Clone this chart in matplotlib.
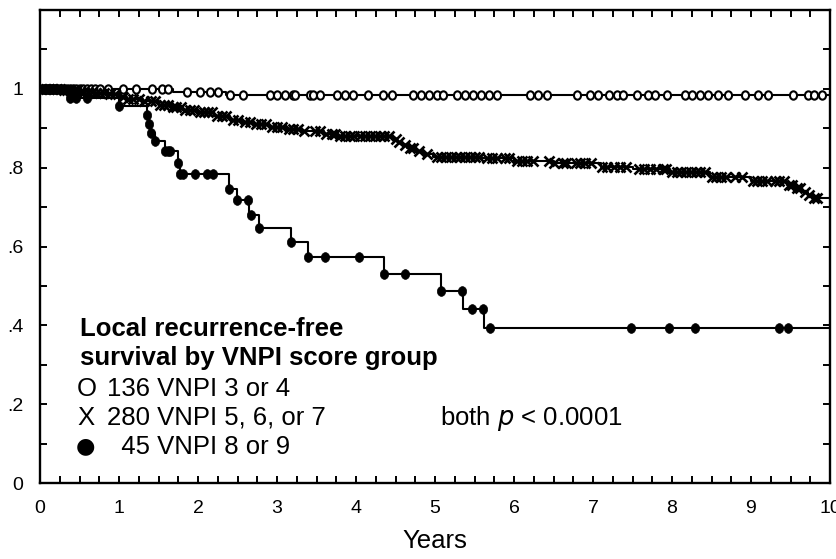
import numpy as np
import matplotlib
matplotlib.use("Agg")
import matplotlib.pyplot as plt
from matplotlib.markers import MarkerStyle
from matplotlib.transforms import Affine2D
from matplotlib.ticker import MultipleLocator

plt.rcParams['font.family'] = ['Liberation Sans', 'DejaVu Sans']

# ---- data: Kaplan-Meier step curves (time, survival) ----
g1_times = [0.0, 1.68, 2.35]
g1_surv = [1.0, 0.992, 0.984]

g2_times = [0.0, 0.3, 0.5, 0.7, 0.85, 1.0, 1.1, 1.3, 1.5, 1.65, 1.8, 2.0, 2.2, 2.4,
            2.55, 2.7, 2.9, 3.1, 3.3, 3.6, 3.75, 4.45, 4.52, 4.58, 4.65, 4.75, 4.85,
            4.97, 5.6, 6.0, 6.5, 7.1, 7.5, 7.97, 8.48, 9.0, 9.45, 9.55, 9.65, 9.72, 9.78]
g2_surv = [1.0, 0.996, 0.993, 0.99, 0.986, 0.979, 0.975, 0.968, 0.96, 0.953, 0.946,
           0.94, 0.932, 0.922, 0.915, 0.91, 0.903, 0.898, 0.893, 0.886, 0.881, 0.873,
           0.865, 0.857, 0.85, 0.842, 0.835, 0.828, 0.824, 0.818, 0.812, 0.802, 0.797,
           0.79, 0.777, 0.765, 0.757, 0.748, 0.738, 0.73, 0.724]

g3_times = [0.0, 0.35, 1.0, 1.35, 1.38, 1.41, 1.45, 1.58, 1.75, 1.77, 2.39, 2.49,
            2.65, 2.77, 3.18, 3.39, 4.36, 5.07, 5.35, 5.62]
g3_surv = [1.0, 0.978, 0.956, 0.933, 0.911, 0.889, 0.867, 0.842, 0.813, 0.783, 0.747,
           0.717, 0.679, 0.648, 0.612, 0.574, 0.531, 0.488, 0.442, 0.394]

# ---- marker times ----
g1_marks = [0.02, 0.06, 0.1, 0.14, 0.18, 0.22, 0.26, 0.3, 0.34, 0.38, 0.42, 0.46, 0.5,
            0.55, 0.6, 0.65, 0.7, 0.76, 0.86, 1.05, 1.22, 1.42, 1.54, 1.62, 1.86, 2.03,
            2.15, 2.25, 2.4, 2.57, 2.91, 3.0, 3.1, 3.2, 3.23, 3.42, 3.46, 3.55, 3.76,
            3.86, 3.96, 4.15, 4.34, 4.45, 4.72, 4.82, 4.92, 5.02, 5.1, 5.28, 5.38, 5.48,
            5.58, 5.68, 5.78, 6.2, 6.3, 6.42, 6.8, 6.96, 7.06, 7.2, 7.3, 7.38, 7.56, 7.7,
            7.78, 7.94, 8.16, 8.25, 8.35, 8.45, 8.58, 8.71, 8.92, 9.09, 9.22, 9.53, 9.72,
            9.8, 9.9]

g2_marks = [0.03, 0.08, 0.12, 0.17, 0.21, 0.25, 0.3, 0.34, 0.38, 0.43, 0.47, 0.52, 0.56,
            0.61, 0.66, 0.71, 0.76, 0.81, 0.88, 0.95, 1.05, 1.12, 1.18, 1.25, 1.32, 1.4,
            1.46, 1.52, 1.57, 1.62, 1.68, 1.72, 1.78, 1.84, 1.9, 1.95, 2.02, 2.08, 2.13,
            2.18, 2.24, 2.3, 2.36, 2.44, 2.5, 2.6, 2.66, 2.74, 2.8, 2.86, 2.94, 3.0, 3.06,
            3.15, 3.2, 3.26, 3.34, 3.48, 3.55, 3.62, 3.7, 3.74, 3.8, 3.86, 3.92, 3.98,
            4.05, 4.12, 4.18, 4.24, 4.3, 4.36, 4.42, 4.5, 4.55, 4.62, 4.68, 4.72, 4.8,
            4.9, 5.02, 5.08, 5.14, 5.2, 5.26, 5.32, 5.38, 5.44, 5.5, 5.56, 5.66, 5.72,
            5.78, 5.88, 5.94, 6.04, 6.1, 6.16, 6.24, 6.44, 6.5, 6.62, 6.66, 6.78, 6.84,
            6.9, 6.98, 7.12, 7.18, 7.26, 7.34, 7.42, 7.58, 7.64, 7.72, 7.8, 7.88, 7.92,
            8.0, 8.06, 8.12, 8.18, 8.24, 8.3, 8.36, 8.42, 8.5, 8.56, 8.62, 8.68, 8.8,
            8.88, 9.02, 9.08, 9.14, 9.2, 9.3, 9.36, 9.42, 9.48, 9.52, 9.58, 9.62, 9.68,
            9.74, 9.8, 9.84]

g3_marks = [0.05, 0.1, 0.15, 0.2, 0.25, 0.38, 0.45, 0.6, 1.0, 1.35, 1.38, 1.41, 1.45,
            1.58, 1.62, 1.64, 1.75, 1.77, 1.81, 1.96, 2.11, 2.19, 2.39, 2.49, 2.63, 2.67,
            2.77, 3.18, 3.39, 3.61, 4.04, 4.36, 4.62, 5.07, 5.34, 5.47, 5.61, 5.7, 7.48,
            7.96, 8.29, 9.35, 9.47]

x_end = 10.0
xtick_labels = ["0", "1", "2", "3", "4", "5", "6", "7", "8", "9", "10"]
ytick_vals = [0, 0.2, 0.4, 0.6, 0.8, 1.0]
ytick_labels = ["0", ".2", ".4", ".6", ".8", "1"]

legend_header = ["Local recurrence-free", "survival by VNPI score group"]
legend_rows = [("O", "136 VNPI 3 or 4"), ("X", "280 VNPI 5, 6, or 7"), ("\u25CF", "  45 VNPI 8 or 9")]


def step_value(times, surv, t):
    idx = np.searchsorted(np.asarray(times), np.asarray(t), side='right') - 1
    return np.asarray(surv)[idx]


fig = plt.figure(figsize=(8.36, 5.59), dpi=100)
ax = fig.add_axes([40 / 836, 76 / 559, 790 / 836, 473 / 559])

lw = 1.5
for times, surv in [(g1_times, g1_surv), (g2_times, g2_surv), (g3_times, g3_surv)]:
    t = list(times) + [x_end]
    s = list(surv) + [surv[-1]]
    ax.step(t, s, where='post', color='black', lw=lw, zorder=2)

circ = MarkerStyle('o', transform=Affine2D().scale(0.85, 1.0))
ax.plot(g1_marks, step_value(g1_times, g1_surv, g1_marks), ls='none', marker=circ,
        ms=6, mfc='white', mec='black', mew=1.5, zorder=3)
ax.plot(g2_marks, step_value(g2_times, g2_surv, g2_marks), ls='none', marker='x',
        ms=6.5, mec='black', mew=1.9, zorder=3)
ax.plot(g3_marks, step_value(g3_times, g3_surv, g3_marks), ls='none', marker=circ,
        ms=7, mfc='black', mec='black', mew=0.5, zorder=3)

ax.set_xlim(0, 10)
ax.set_ylim(0, 1.2)
ax.set_xticks(range(11))
ax.set_xticklabels(xtick_labels)
ax.set_yticks(ytick_vals)
ax.set_yticklabels(ytick_labels)
ax.xaxis.set_minor_locator(MultipleLocator(0.25))
ax.yaxis.set_minor_locator(MultipleLocator(0.1))
ax.tick_params(which='both', direction='in', top=True, right=True, length=5,
               width=1.4, labelsize=14, pad=12, color='black')
for sp in ax.spines.values():
    sp.set_linewidth(1.7)

ax.set_xlabel("Years", fontsize=18.5, labelpad=9)

fs = 18.5
def px2data(px, py):
    return (px - 40) / 79.0, (483 - py) / 393.5

x0, y0 = px2data(80, 336)
ax.text(x0, y0, legend_header[0], fontsize=fs, fontweight='bold', ha='left', va='baseline')
x0, y0 = px2data(80, 365)
ax.text(x0, y0, legend_header[1], fontsize=fs, fontweight='bold', ha='left', va='baseline')

row_base = [396, 425, 454]
for (sym, label), py in zip(legend_rows, row_base):
    xs, ys = px2data(77, py)
    if sym == "\u25CF":
        ax.text(xs - 0.02, ys + 0.004, sym, fontsize=16, ha='left', va='baseline',
                family=['DejaVu Sans'])
    else:
        ax.text(xs, ys, sym, fontsize=fs, ha='left', va='baseline')
    xl, _ = px2data(107, py)
    ax.text(xl, ys, label, fontsize=fs, ha='left', va='baseline')

xp, yp = px2data(440, 425)
ax.text(xp, yp, "both $\\it{p}$ < 0.0001", fontsize=fs, ha='left', va='baseline')

fig.savefig("out.png", dpi=100)
